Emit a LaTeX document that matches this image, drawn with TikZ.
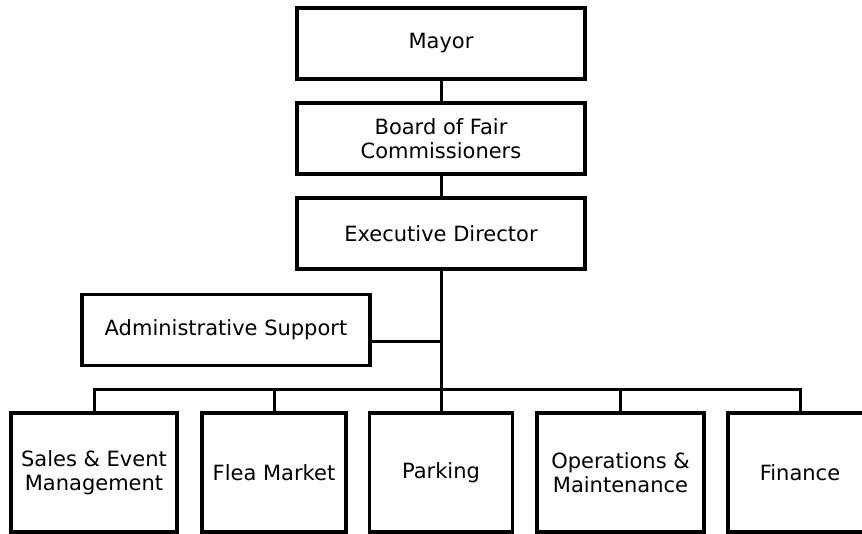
\documentclass[tikz,border=0pt]{standalone}
\usepackage{fontspec}
\setmainfont{DejaVu Sans}
\usepackage{tikz}
\usetikzlibrary{positioning}
\tikzset{
  unit/.style={draw, line width=3.2pt, align=center, inner sep=2pt,
    font=\fontsize{21}{24}\selectfont},
  topunit/.style={unit, minimum width=288pt, minimum height=71pt},
  lowunit/.style={unit, minimum height=119pt},
  link/.style={line width=3pt}
}

\begin{document}
\begin{tikzpicture}[x=1pt, y=-1pt, node distance=95pt, on grid]
        \useasboundingbox (0,0) rectangle (862,534);
        \clip (0,0) rectangle (862,534);
        \node[topunit]  (mayor)    at (441,43.5)         {Mayor};
        \node[topunit]  (board)    [below=of mayor]      {Board of Fair\\Commissioners};
        \node[topunit]  (director) [below=of board]      {Executive Director};
        \node[topunit]  (admin)    at (226,330)          {Administrative Support};

        \node[lowunit, minimum width=166pt] (sales)   at (94,472.5)  {Sales \& Event\\Management};
        \node[lowunit, minimum width=144pt] (flea)    at (274,472.5) {Flea Market};
        \node[lowunit, minimum width=143pt] (parking) at (441,472.5) {Parking};
        \node[lowunit, minimum width=167pt] (ops)     at (620.5,472.5) {Operations \&\\Maintenance};
        \node[lowunit, minimum width=144pt] (finance) at (800,472.5) {Finance};

        \coordinate (adminout) at ([yshift=-12pt]admin.east);
        \coordinate (bar)      at (441,390);

        \path[link] (mayor)    edge (board)
                    (board)    edge (director)
                    (director) edge (parking);
        \draw[link] (adminout) -- (adminout -| director);
        \draw[link] (sales.north) |- (bar) -| (finance.north);
        \draw[link] (flea.north) -- (flea.north |- bar);
        \draw[link] (ops.north)  -- (ops.north |- bar);
\end{tikzpicture}
\end{document}
